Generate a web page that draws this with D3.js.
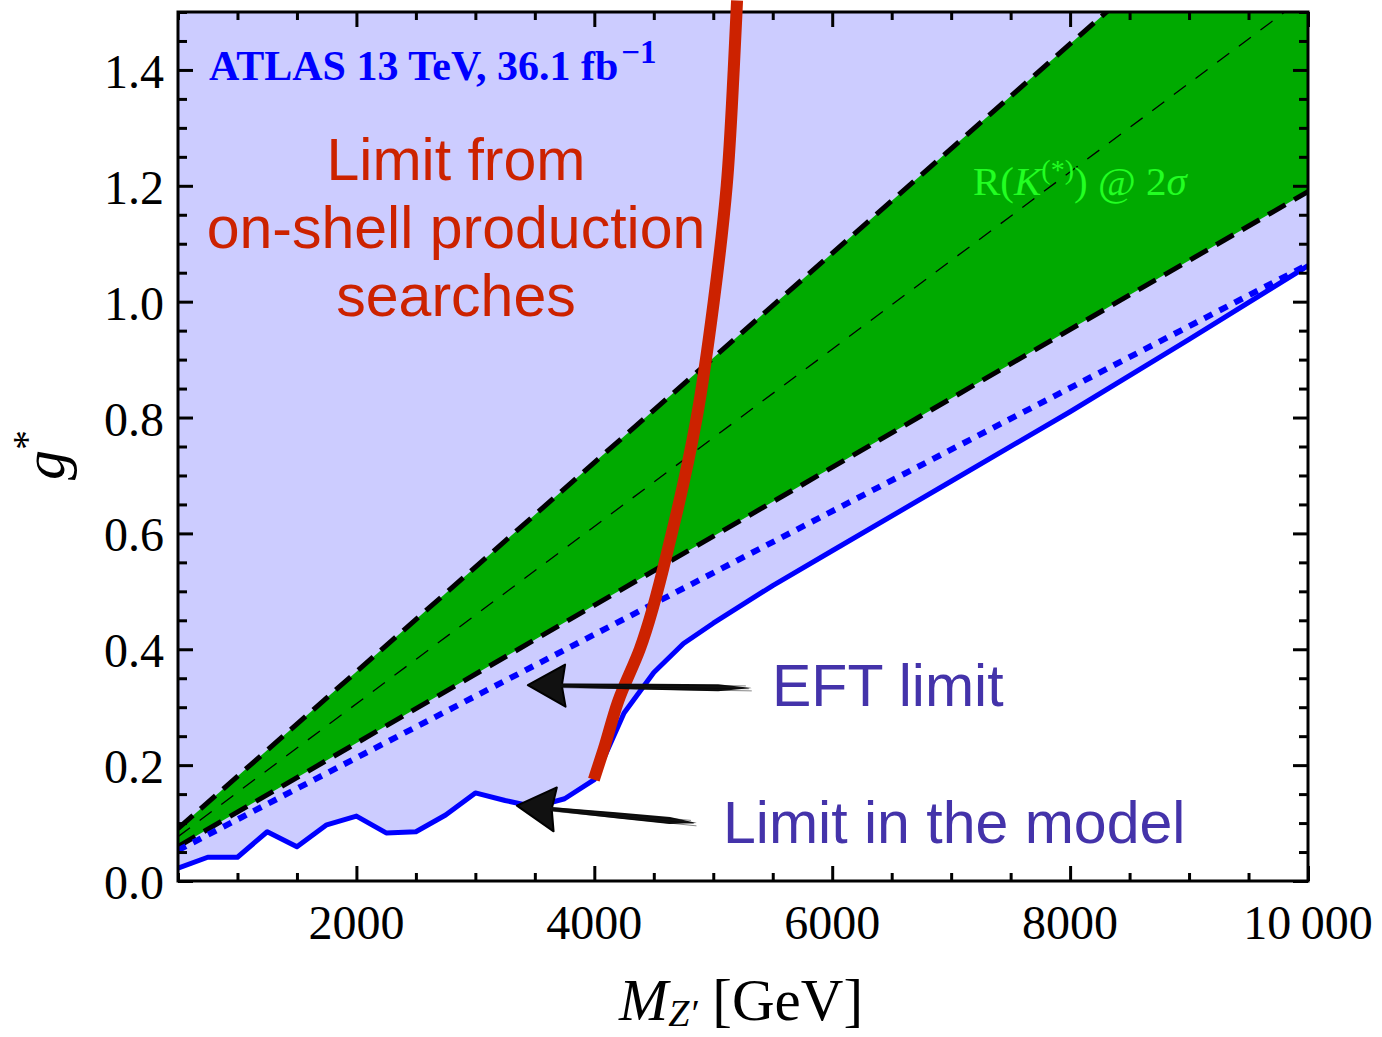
<!DOCTYPE html>
<html>
<head>
<meta charset="utf-8">
<script src="https://cdn.jsdelivr.net/npm/d3@7"></script>
<style>
  body { margin: 0; background: #fff; }
  svg text { font-family: "Liberation Serif", "DejaVu Serif", serif; }
</style>
</head>
<body>
<div id="chart"></div>
<script>
// ---- data ----
// limit in the model (solid blue)
var modelMass = [500, 750, 1000, 1250, 1500, 1750, 2000, 2250, 2500, 2750, 3000, 3250, 3500, 3750, 4000, 4250, 4500, 4750, 5000, 5500, 6000, 7000, 8000, 9000, 10000];
var modelG    = [0.022, 0.041, 0.041, 0.085, 0.059, 0.097, 0.112, 0.083, 0.085, 0.114, 0.152, 0.139, 0.128, 0.142, 0.175, 0.29, 0.36, 0.41, 0.445, 0.51, 0.57, 0.69, 0.81, 0.935, 1.062];

// EFT limit (dotted blue)
var eftMass = [500, 10000];
var eftG    = [0.053, 1.064];

// R(K(*)) band at 2 sigma
var bandMass    = [500, 10000];
var bandUpper   = [0.0903, 1.806];
var bandCentral = [0.0765, 1.53];
var bandLower   = [0.0595, 1.19];

// limit from on-shell production searches (red)
var onshellMass = [3996, 4080, 4200, 4382, 4651, 4861, 5004, 5113, 5172, 5200];
var onshellG    = [0.175, 0.228, 0.31, 0.4, 0.6, 0.8, 1.0, 1.2, 1.4, 1.52];

// ticks
var xMajor = [2000, 4000, 6000, 8000, 10000];
var xMajorLabels = ["2000", "4000", "6000", "8000", "10\u2009000"];
var xMinor = d3.range(500, 10001, 500).filter(function (d) { return d % 2000 !== 0; });
var yMajor = [0, 0.2, 0.4, 0.6, 0.8, 1.0, 1.2, 1.4];
var yMajorLabels = ["0.0", "0.2", "0.4", "0.6", "0.8", "1.0", "1.2", "1.4"];
var yMinor = d3.range(0, 1.501, 0.05).filter(function (d) { return Math.abs(d * 5 - Math.round(d * 5)) > 1e-6; });

//Width and height
var w = 1382;
var h = 1037;
var plotL = 178, plotR = 1308, plotT = 12, plotB = 881;

var x = d3.scaleLinear().domain([500, 10000]).range([plotL, plotR]);
var y = d3.scaleLinear().domain([0, 1.5]).range([plotB, plotT]);

var svg = d3.select("#chart")
    .append("svg")
    .attr("width", w)
    .attr("height", h);

svg.append("clipPath").attr("id", "plotClip")
    .append("rect")
    .attr("x", plotL).attr("y", plotT)
    .attr("width", plotR - plotL).attr("height", plotB - plotT);

var plot = svg.append("g").attr("clip-path", "url(#plotClip)");

function pts(ms, gs) {
    return ms.map(function (m, i) { return [m, gs[i]]; });
}

var line = d3.line()
    .x(function (d) { return x(d[0]); })
    .y(function (d) { return y(d[1]); });

// light blue excluded region: everything above the model limit
var modelPts = pts(modelMass, modelG);
var fillPts = modelPts.concat([[10000, 1.5], [500, 1.5]]);
plot.append("path")
    .attr("d", line(fillPts) + "Z")
    .attr("fill", "#ccccff");

// green band
var bandPts = pts(bandMass, bandUpper).concat(pts(bandMass, bandLower).reverse());
plot.append("path")
    .attr("d", line(bandPts) + "Z")
    .attr("fill", "#00aa00");

// band edges and central line
[bandUpper, bandLower].forEach(function (g) {
    plot.append("path")
        .attr("d", line(pts(bandMass, g)))
        .attr("fill", "none")
        .attr("stroke", "#000")
        .attr("stroke-width", 5)
        .attr("stroke-dasharray", "20,10");
});
plot.append("path")
    .attr("d", line(pts(bandMass, bandCentral)))
    .attr("fill", "none")
    .attr("stroke", "#000")
    .attr("stroke-width", 1.3)
    .attr("stroke-dasharray", "15,12");

// EFT limit
plot.append("path")
    .attr("d", line(pts(eftMass, eftG)))
    .attr("fill", "none")
    .attr("stroke", "#0000ff")
    .attr("stroke-width", 6)
    .attr("stroke-dasharray", "9,8");

// model limit
plot.append("path")
    .attr("d", line(modelPts))
    .attr("fill", "none")
    .attr("stroke", "#0000ff")
    .attr("stroke-width", 5)
    .attr("stroke-linejoin", "round");

// frame
svg.append("rect")
    .attr("x", plotL).attr("y", plotT)
    .attr("width", plotR - plotL).attr("height", plotB - plotT)
    .attr("fill", "none")
    .attr("stroke", "#000")
    .attr("stroke-width", 3);

// ticks on all four sides, pointing inward
function addAxis(axis, tr, vals, size) {
    var g = svg.append("g")
        .attr("transform", tr)
        .call(axis.tickValues(vals).tickSize(-size).tickFormat(""));
    g.select(".domain").remove();
    g.selectAll(".tick line").attr("stroke", "#000").attr("stroke-width", 3);
}
addAxis(d3.axisBottom(x), "translate(0," + plotB + ")", xMajor, 15);
addAxis(d3.axisBottom(x), "translate(0," + plotB + ")", xMinor, 8);
addAxis(d3.axisTop(x), "translate(0," + plotT + ")", xMajor, 15);
addAxis(d3.axisTop(x), "translate(0," + plotT + ")", xMinor, 8);
addAxis(d3.axisLeft(y), "translate(" + plotL + ",0)", yMajor, 15);
addAxis(d3.axisLeft(y), "translate(" + plotL + ",0)", yMinor, 9);
addAxis(d3.axisRight(y), "translate(" + plotR + ",0)", yMajor, 15);
addAxis(d3.axisRight(y), "translate(" + plotR + ",0)", yMinor, 9);

// tick labels
svg.append("g").selectAll("text")
    .data(xMajor)
    .join("text")
    .attr("x", function (d) { return x(d); })
    .attr("y", 939)
    .attr("text-anchor", "middle")
    .attr("font-size", 48)
    .text(function (d, i) { return xMajorLabels[i]; });

svg.append("g").selectAll("text")
    .data(yMajor)
    .join("text")
    .attr("x", 164)
    .attr("y", function (d) { return y(d) + 18; })
    .attr("text-anchor", "end")
    .attr("font-size", 48)
    .text(function (d, i) { return yMajorLabels[i]; });

// on-shell limit (red)
svg.append("path")
    .attr("d", line.curve(d3.curveMonotoneY)(pts(onshellMass, onshellG)))
    .attr("fill", "none")
    .attr("stroke", "#cc2200")
    .attr("stroke-width", 12);
line.curve(d3.curveLinear);

// hand drawn arrows
function arrow(tipM, tipG, tailM, tailG, headLen, headHalf) {
    var tx = x(tipM), ty = y(tipG), ex = x(tailM), ey = y(tailG);
    var ang = Math.atan2(ey - ty, ex - tx);
    var c = Math.cos(ang), s = Math.sin(ang);
    function p(a, b) { return [tx + a * c - b * s, ty + a * s + b * c]; }
    var L = Math.hypot(ex - tx, ey - ty);
    var g = svg.append("g");
    g.append("path")
        .attr("d", d3.line()([p(0, 0), p(headLen, -headHalf), p(headLen - 3, 0), p(headLen + 1, headHalf)]) + "Z")
        .attr("fill", "#111")
        .attr("stroke", "#000")
        .attr("stroke-width", 2)
        .attr("stroke-linejoin", "round");
    g.append("path")
        .attr("d", d3.line()([p(headLen - 4, -2), p(L * 0.55, -3), p(L * 0.85, -3.5), p(L, 0),
                              p(L * 0.85, 3.5), p(L * 0.55, 3), p(headLen - 4, 2)]) + "Z")
        .attr("fill", "#111");
    // a few sketch strokes
    [-1.5, 0.5, 2].forEach(function (o, i) {
        g.append("path")
            .attr("d", d3.line()([p(headLen - 2, o), p(L - 6 + i * 3, o * 1.4)]))
            .attr("stroke", "#000")
            .attr("stroke-width", 0.8)
            .attr("stroke-opacity", 0.6);
    });
}
arrow(3441, 0.338, 5324, 0.333, 37, 21);
arrow(3349, 0.130, 4861, 0.100, 38, 22);

// texts
var atlas = svg.append("text")
    .attr("x", 209).attr("y", 80)
    .attr("font-size", 42)
    .attr("font-weight", "bold")
    .attr("fill", "#0000ff");
atlas.append("tspan").text("ATLAS 13 TeV, 36.1 fb");
atlas.append("tspan").attr("dx", 3).attr("dy", -17).attr("font-size", 33).text("\u22121");

var sans = "'Liberation Sans', Arial, sans-serif";
[["Limit from", 180], ["on-shell production", 248], ["searches", 316]].forEach(function (t) {
    svg.append("text")
        .attr("x", 456).attr("y", t[1])
        .attr("text-anchor", "middle")
        .attr("font-size", 59)
        .style("font-family", sans)
        .attr("fill", "#cc2200")
        .text(t[0]);
});

svg.append("text")
    .attr("x", 772).attr("y", 706)
    .attr("font-size", 59)
    .style("font-family", sans)
    .attr("fill", "#4433aa")
    .text("EFT limit");

svg.append("text")
    .attr("x", 723).attr("y", 843)
    .attr("font-size", 59)
    .style("font-family", sans)
    .attr("fill", "#4433aa")
    .text("Limit in the model");

var rk = svg.append("text")
    .attr("x", 973).attr("y", 195)
    .attr("font-size", 41)
    .attr("fill", "#22ff22");
rk.append("tspan").text("R(");
rk.append("tspan").attr("font-style", "italic").text("K");
rk.append("tspan").attr("dy", -16).attr("font-size", 28).text("(*)");
rk.append("tspan").attr("dy", 16).text(") @ 2");
rk.append("tspan").attr("font-style", "italic").text("\u03c3");

// axis titles
var xt = svg.append("text")
    .attr("x", 741).attr("y", 1020)
    .attr("text-anchor", "middle")
    .attr("font-size", 59);
xt.append("tspan").attr("font-style", "italic").text("M");
xt.append("tspan").attr("font-style", "italic").attr("font-size", 38).attr("dy", 6).text("Z\u2032");
xt.append("tspan").attr("dy", -6).text(" [GeV]");

var yt = svg.append("text")
    .attr("transform", "translate(64,455) rotate(-90)")
    .attr("text-anchor", "middle")
    .attr("font-size", 60);
yt.append("tspan").attr("font-style", "italic").text("g");
yt.append("tspan").attr("dy", -24).attr("font-size", 40).text("*");
</script>
</body>
</html>
